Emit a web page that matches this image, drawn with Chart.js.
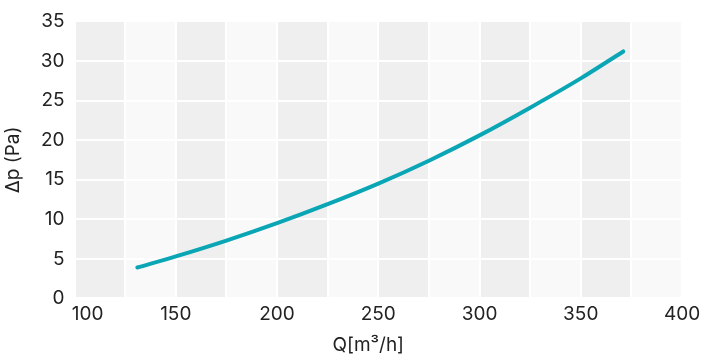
<!DOCTYPE html>
<html>
<head>
<meta charset="utf-8">
<script src="https://cdn.jsdelivr.net/npm/chart.js@4/dist/chart.umd.min.js"></script>
<style>
    body { margin: 0; background: #fff; }
    #wrap { width: 701px; height: 359px; }
</style>
</head>
<body>
<div id="wrap"><canvas id="myChart"></canvas></div>
<script>
const flow = [131, 150, 175, 200, 225, 250, 275, 300, 325, 350, 371];
const pressure = [3.9, 5.3, 7.3, 9.5, 11.9, 14.5, 17.4, 20.6, 24.1, 27.8, 31.2];
const xTicks = [100, 150, 200, 250, 300, 350, 400];
const xLabel = 'Q[m³/h]';
const yLabel = 'Δp (Pa)';

const font = { family: 'Inter', size: 19 };

// alternating vertical bands behind the grid
const bands = {
    id: 'bands',
    beforeDraw(chart) {
        const ctx = chart.ctx;
        const x = chart.scales.x;
        const area = chart.chartArea;
        ctx.save();
        for (let v = x.min, i = 0; v < x.max; v += 25, i++) {
            const l = x.getPixelForValue(v);
            const r = x.getPixelForValue(v + 25);
            ctx.fillStyle = i % 2 === 0 ? '#efefef' : '#f9f9f9';
            ctx.fillRect(l, area.top, r - l, area.bottom - area.top);
        }
        ctx.restore();
    }
};

// x labels drawn by hand so the first one can sit inside like the original
const xText = {
    id: 'xText',
    afterDraw(chart) {
        const ctx = chart.ctx;
        const x = chart.scales.x;
        const area = chart.chartArea;
        ctx.save();
        ctx.font = font.size + 'px ' + font.family;
        ctx.fillStyle = '#222';
        ctx.textAlign = 'center';
        ctx.textBaseline = 'top';
        xTicks.forEach((t, i) => {
            let px = x.getPixelForValue(t);
            if (i === 0) px += 13;
            ctx.fillText(String(t), px, area.bottom + 6);
        });
        ctx.textBaseline = 'middle';
        ctx.fillText(xLabel, (area.left + area.right) / 2 - 10, 345);
        ctx.restore();
    }
};

const data = {
    datasets: [{
        data: flow.map((q, i) => ({ x: q, y: pressure[i] })),
        borderColor: '#0aa6b5',
        borderWidth: 4,
        borderCapStyle: 'round',
        pointRadius: 0,
        cubicInterpolationMode: 'monotone',
        fill: false
    }]
};

const config = {
    type: 'line',
    data: data,
    options: {
        responsive: true,
        maintainAspectRatio: false,
        animation: false,
        layout: { padding: { top: 12, right: 19, left: 2 } },
        plugins: { legend: { display: false }, tooltip: { enabled: false } },
        scales: {
            x: {
                type: 'linear',
                min: 100,
                max: 400,
                border: { display: false },
                grid: { color: '#fff', lineWidth: 2, drawTicks: false },
                ticks: {
                    stepSize: 25,
                    color: 'rgba(0,0,0,0)',
                    font: font,
                    padding: 6,
                    maxRotation: 0,
                    // real labels are drawn by xText; these only reserve the height
                    callback: v => (v % 50 === 0 && v < 400) ? v : ''
                },
                title: { display: true, text: xLabel, color: 'rgba(0,0,0,0)', font: font, padding: { top: 2, bottom: 1 } }
            },
            y: {
                min: 0,
                max: 35,
                border: { display: false },
                grid: { color: '#fff', lineWidth: 2, drawTicks: false },
                ticks: { stepSize: 5, color: '#222', font: font, padding: 10 },
                title: { display: true, text: yLabel, color: '#222', font: font, padding: { top: 0, bottom: 6 } }
            }
        }
    },
    plugins: [bands, xText]
};

const myChart = new Chart(document.getElementById('myChart'), config);
</script>
</body>
</html>
